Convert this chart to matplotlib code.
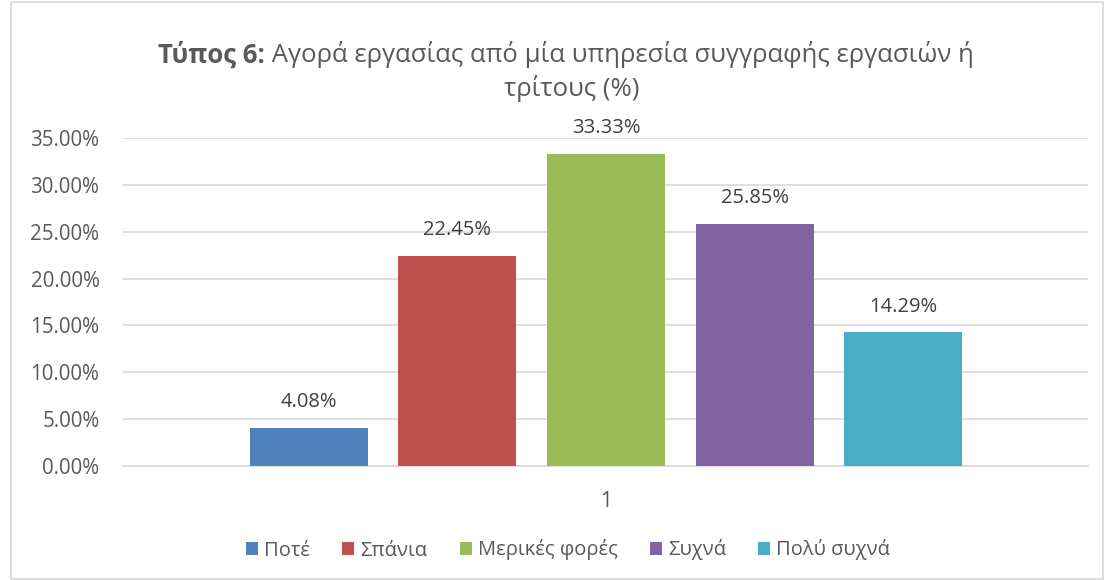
import matplotlib
matplotlib.use("Agg")
import matplotlib.pyplot as plt
from matplotlib.patches import Rectangle, Patch

plt.rcParams['font.family'] = ['Open Sans', 'Noto Sans', 'DejaVu Sans']

categories = ["1"]
series_names = ["Ποτέ", "Σπάνια", "Μερικές φορές", "Συχνά", "Πολύ συχνά"]
values = [4.08, 22.45, 33.33, 25.85, 14.29]
colors = ["#4F81BD", "#C0504D", "#9BBB59", "#8064A2", "#4BACC6"]
yticks = [0, 5, 10, 15, 20, 25, 30, 35]

W, H = 1105, 580
fig = plt.figure(figsize=(W / 100, H / 100), dpi=100)
txt = "#595959"

# chart border
fig.patches.append(Rectangle((11 / W, 1 / H), (W - 13) / W, (H - 3) / H,
                             transform=fig.transFigure, fill=False,
                             edgecolor="#D9D9D9", linewidth=1.2))

ax = fig.add_axes([123 / W, 1 - 466 / H, (1088 - 123) / W, (466 - 138) / H])
ax.set_xlim(0, 1)
ax.set_ylim(0, 35)

step = 148.7 / 965
width = 118 / 965
center = 0.5005
n = len(values)
for i, (name, v, c) in enumerate(zip(series_names, values, colors)):
    x = center + (i - (n - 1) / 2) * step
    ax.bar(x, v, width=width, color=c, label=name, zorder=3)
    ax.annotate(f"{v:.2f}%", (x, v), xytext=(0, 11), textcoords="offset points",
                ha="center", va="bottom", fontsize=14.5, color="#404040")

ax.set_yticks(yticks)
ax.set_yticklabels([f"{t:.2f}%" for t in yticks], fontsize=14.8, color=txt)
ax.set_xticks([center])
ax.set_xticklabels(categories, fontsize=14.8, color=txt)
ax.tick_params(axis="both", length=0)
ax.tick_params(axis="y", pad=17)
ax.tick_params(axis="x", pad=18)
ax.grid(axis="y", color="#D9D9D9", linewidth=1.2, zorder=0)
for s in ["left", "right", "top"]:
    ax.spines[s].set_visible(False)
ax.spines["bottom"].set_color("#D9D9D9")
ax.spines["bottom"].set_linewidth(1.2)

# Title with bold prefix
fig.canvas.draw()
r = fig.canvas.get_renderer()
bold_part = "Τύπος 6:"
reg_part = " Αγορά εργασίας από μία υπηρεσία συγγραφής εργασιών ή"
fs = 18.5
tb = fig.text(0, 0, bold_part, fontsize=fs, fontweight="bold", color=txt)
tr = fig.text(0, 0, reg_part, fontsize=fs, color=txt)
wb = tb.get_window_extent(r).width
wr = tr.get_window_extent(r).width
total = wb + wr
cx = 566
y1 = 1 - 55 / H
x0 = cx - total / 2
tb.set_position((x0 / W, y1))
tb.set_va("center")
tr.set_position(((x0 + wb) / W, y1))
tr.set_va("center")
fig.text(572 / W, 1 - 88 / H, "τρίτους (%)", fontsize=fs, color=txt,
         ha="center", va="center")

handles = [Patch(facecolor=c, label=nm) for nm, c in zip(series_names, colors)]
fig.legend(handles=handles, loc="center", bbox_to_anchor=(568 / W, 1 - 550 / H),
           ncol=5, frameon=False, fontsize=14.5, labelcolor=txt,
           handlelength=0.6, handleheight=0.6, handletextpad=0.3,
           columnspacing=1.6)

fig.savefig("out.png", dpi=100)
